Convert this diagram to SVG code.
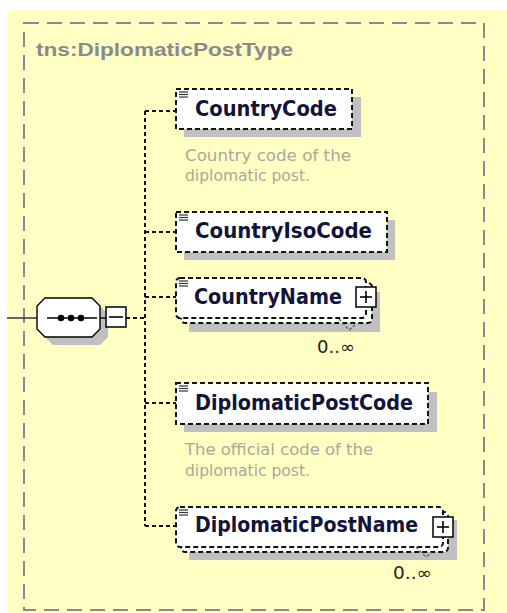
<svg xmlns="http://www.w3.org/2000/svg" width="507" height="613" viewBox="0 0 507 613">
<style>
.bg{fill:#ffffc4}
.frame{fill:none;stroke:#8a8a8a;stroke-width:2;stroke-dasharray:15 8}
.title{font-family:"Liberation Sans",Arial,sans-serif;font-weight:bold;font-size:18.5px;fill:#8a8a8a}
.box{fill:#fff;stroke:#111;stroke-width:2;stroke-dasharray:5 3}
.shadow{fill:#c0c0c0}
.name{font-family:"DejaVu Sans",Verdana,sans-serif;font-weight:bold;font-size:20.5px;fill:#14143a}
.desc{font-family:"DejaVu Sans",Verdana,sans-serif;font-size:16px;fill:#a8a89a}
.mult{font-family:"DejaVu Sans",Verdana,sans-serif;font-size:17px;fill:#222}
.conn{fill:none;stroke:#111;stroke-width:2;stroke-dasharray:4 3}
.icon{stroke:#333;stroke-width:1.2}
.plus{fill:#fff;stroke:#000;stroke-width:1.5}
</style>
<defs>
<g id="ico">
<line class="icon" x1="0" y1="0" x2="9" y2="0"/>
<line class="icon" x1="0" y1="2.5" x2="9" y2="2.5"/>
<line class="icon" x1="0" y1="5" x2="9" y2="5"/>
</g>
<g id="plusbox">
<rect class="plus" x="-10" y="-10" width="20" height="20"/>
<line stroke="#000" stroke-width="1.6" x1="-6" y1="0" x2="6" y2="0"/>
<line stroke="#000" stroke-width="1.6" x1="0" y1="-6" x2="0" y2="6"/>
</g>
</defs>
<rect class="bg" x="7" y="10" width="500" height="603"/>
<rect class="frame" x="24" y="23" width="460" height="587"/>
<text class="title" x="36" y="56" textLength="257" lengthAdjust="spacingAndGlyphs">tns:DiplomaticPostType</text>

<g id="connectors">
<line x1="7" y1="318" x2="37" y2="318" stroke="#333" stroke-width="1.5"/>
<line class="conn" x1="126" y1="318" x2="145" y2="318"/>
<line class="conn" x1="145" y1="111" x2="145" y2="526"/>
<line class="conn" x1="145" y1="111" x2="176" y2="111"/>
<line class="conn" x1="145" y1="232" x2="176" y2="232"/>
<line class="conn" x1="145" y1="297" x2="176" y2="297"/>
<line class="conn" x1="145" y1="403" x2="176" y2="403"/>
<line class="conn" x1="145" y1="526" x2="176" y2="526"/>
</g>

<g id="sequence">
<polygon class="shadow" points="53,306 100,306 108,314 108,337 100,345 53,345 45,337 45,314"/>
<polygon fill="#fff" stroke="#000" stroke-width="1.4" points="45,298 92,298 100,306 100,329 92,337 45,337 37,329 37,306"/>
<line x1="47" y1="318" x2="97" y2="318" stroke="#000" stroke-width="1.4"/>
<circle cx="61" cy="318" r="3.3" fill="#000"/>
<circle cx="71" cy="318" r="3.3" fill="#000"/>
<circle cx="81" cy="318" r="3.3" fill="#000"/>
<line x1="100" y1="318" x2="106" y2="318" stroke="#000" stroke-width="1.4"/>
<rect class="plus" x="106" y="307" width="20" height="20"/>
<line x1="109" y1="317" x2="123" y2="317" stroke="#000" stroke-width="1.6"/>
</g>

<g id="CountryCode">
<rect class="shadow" x="184" y="97" width="177" height="40"/>
<rect class="box" x="176" y="89" width="176" height="40"/>
<use href="#ico" x="179" y="92"/>
<text class="name" x="195" y="116" textLength="142" lengthAdjust="spacingAndGlyphs">CountryCode</text>
<text class="desc" x="185" y="161" textLength="166" lengthAdjust="spacingAndGlyphs">Country code of the</text>
<text class="desc" x="185" y="181" textLength="125" lengthAdjust="spacingAndGlyphs">diplomatic post.</text>
</g>

<g id="CountryIsoCode">
<rect class="shadow" x="184" y="220" width="211" height="40"/>
<rect class="box" x="176" y="212" width="211" height="40"/>
<use href="#ico" x="179" y="215"/>
<text class="name" x="195" y="238" textLength="177" lengthAdjust="spacingAndGlyphs">CountryIsoCode</text>
</g>

<g id="CountryName">
<rect class="shadow" x="189" y="292" width="191" height="40"/>
<rect class="box" x="181" y="283" width="191" height="40" rx="4"/>
<rect class="box" x="176" y="278" width="190" height="40" rx="4"/>
<use href="#ico" x="179" y="281"/>
<text class="name" x="194" y="304" textLength="148" lengthAdjust="spacingAndGlyphs">CountryName</text>
<use href="#plusbox" x="366" y="297"/>
<polyline points="339,319 349,330 355,325" fill="none" stroke="#555" stroke-width="1.2" stroke-dasharray="3 2"/>
<text class="mult" x="317" y="353" textLength="38" lengthAdjust="spacingAndGlyphs">0..∞</text>
</g>

<g id="DiplomaticPostCode">
<rect class="shadow" x="184" y="392" width="253" height="40"/>
<rect class="box" x="176" y="383" width="252" height="41"/>
<use href="#ico" x="179" y="386"/>
<text class="name" x="195" y="410" textLength="218" lengthAdjust="spacingAndGlyphs">DiplomaticPostCode</text>
<text class="desc" x="185" y="455" textLength="188" lengthAdjust="spacingAndGlyphs">The official code of the</text>
<text class="desc" x="185" y="476" textLength="125" lengthAdjust="spacingAndGlyphs">diplomatic post.</text>
</g>

<g id="DiplomaticPostName">
<rect class="shadow" x="189" y="520" width="268" height="40"/>
<rect class="box" x="181" y="512" width="267" height="40" rx="4"/>
<rect class="box" x="176" y="507" width="267" height="40" rx="4"/>
<use href="#ico" x="179" y="510"/>
<text class="name" x="195" y="532" textLength="223" lengthAdjust="spacingAndGlyphs">DiplomaticPostName</text>
<use href="#plusbox" x="443" y="527"/>
<polyline points="416,547 426,557 432,552" fill="none" stroke="#555" stroke-width="1.2" stroke-dasharray="3 2"/>
<text class="mult" x="393" y="579" textLength="39" lengthAdjust="spacingAndGlyphs">0..∞</text>
</g>
</svg>
